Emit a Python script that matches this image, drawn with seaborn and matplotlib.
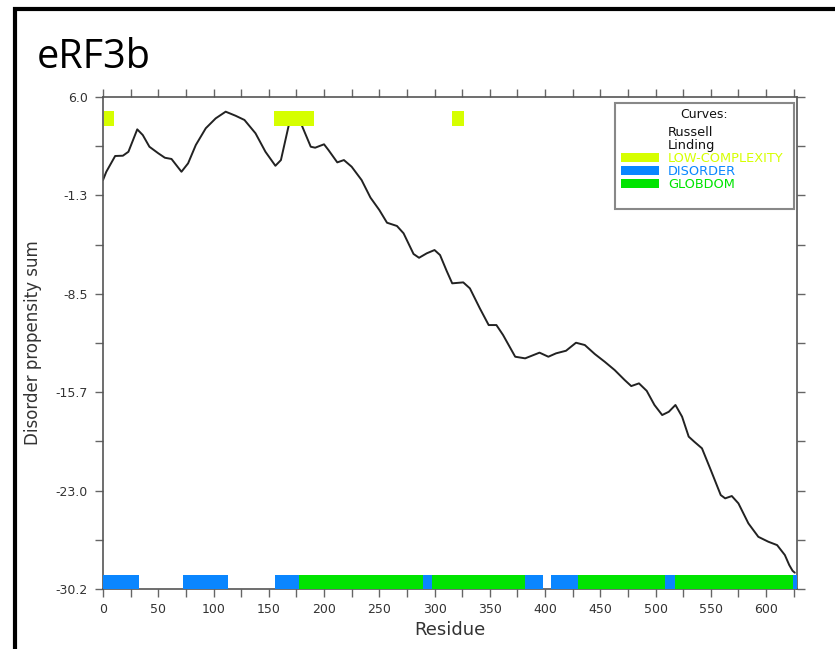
import numpy as np
import pandas as pd
import matplotlib
matplotlib.use("Agg")
import matplotlib.pyplot as plt
import seaborn as sns
from matplotlib.patches import Patch, Rectangle
from matplotlib.lines import Line2D
from matplotlib.ticker import MultipleLocator, FixedLocator

# ---------------- data ----------------
residue = [0, 3, 11, 18, 23, 31, 36, 42, 50, 56, 62, 71, 77, 84, 93, 102, 111, 120,
           128, 138, 147, 156, 161, 168, 174, 180, 188, 192, 200, 204, 212, 218, 225,
           234, 242, 250, 257, 266, 272, 281, 286, 293, 300, 305, 311, 316, 326, 332,
           341, 349, 356, 362, 373, 382, 395, 403, 410, 419, 428, 436, 445, 454, 463,
           472, 478, 485, 492, 499, 506, 512, 518, 524, 530, 535, 542, 550, 559, 563,
           569, 575, 584, 593, 602, 610, 617, 621, 624, 626]
propensity = [-0.11, 0.50, 1.66, 1.68, 1.97, 3.62, 3.20, 2.34, 1.86, 1.53, 1.44, 0.50,
              1.12, 2.47, 3.70, 4.43, 4.92, 4.62, 4.31, 3.33, 1.97, 0.94, 1.36, 3.89,
              4.60, 3.89, 2.34, 2.27, 2.52, 2.10, 1.19, 1.36, 0.87, -0.11, -1.40, -2.31,
              -3.25, -3.49, -4.03, -5.55, -5.83, -5.50, -5.26, -5.63, -6.80, -7.71,
              -7.64, -8.08, -9.55, -10.78, -10.78, -11.51, -13.11, -13.23, -12.81,
              -13.11, -12.86, -12.67, -12.08, -12.25, -12.91, -13.48, -14.09, -14.82,
              -15.27, -15.07, -15.62, -16.66, -17.40, -17.16, -16.66, -17.52, -18.99,
              -19.36, -19.85, -21.45, -23.29, -23.53, -23.36, -23.90, -25.37, -26.36,
              -26.72, -26.97, -27.70, -28.44, -28.86, -29.00]

low_complexity_start = [1, 155, 316]
low_complexity_end = [10, 191, 327]
disorder_start = [0, 72, 156, 290, 382, 405, 509, 624]
disorder_end = [33, 113, 177, 298, 398, 430, 518, 628]
globdom_start = [177, 298, 430, 518]
globdom_end = [290, 382, 509, 624]

y_tick_labels = ["6.0", "-1.3", "-8.5", "-15.7", "-23.0", "-30.2"]
legend_title = "Curves:"
legend_labels = ["Russell", "Linding", "LOW-COMPLEXITY", "DISORDER", "GLOBDOM"]

Y_MAX, Y_MIN = 6.0, -30.2
X_MAX = 628

C_LOW = "#d6ff00"
C_DIS = "#0a86ff"
C_GLOB = "#00e400"
C_AX = "#555555"
C_TXT = "#333333"

# ---------------- figure ----------------
sns.set_theme(style="white")
plt.rcParams['font.family'] = ['DejaVu Sans']

fig = plt.figure(figsize=(8.35, 6.49), dpi=100)
ax = fig.add_axes([103 / 835, 1 - 589 / 649, 694 / 835, 492 / 649])

df = pd.DataFrame({"Residue": residue, "Disorder propensity sum": propensity})
sns.lineplot(data=df, x="Residue", y="Disorder propensity sum", ax=ax,
             color="#222222", linewidth=1.4, zorder=2, sort=False)

# domain bars
top_y, top_h = 3.87, 1.10
bot_y, bot_h = Y_MIN, 1.03
ax.broken_barh([(s, e - s) for s, e in zip(low_complexity_start, low_complexity_end)],
               (top_y, top_h), facecolors=C_LOW, edgecolors='none', linewidth=0, zorder=3)
ax.broken_barh([(s, e - s) for s, e in zip(globdom_start, globdom_end)],
               (bot_y, bot_h), facecolors=C_GLOB, edgecolors='none', linewidth=0, zorder=3)
ax.broken_barh([(s, e - s) for s, e in zip(disorder_start, disorder_end)],
               (bot_y, bot_h), facecolors=C_DIS, edgecolors='none', linewidth=0, zorder=3)

ax.set_xlim(0, X_MAX)
ax.set_ylim(Y_MIN, Y_MAX)

yt = np.linspace(Y_MAX, Y_MIN, len(y_tick_labels))
ax.yaxis.set_major_locator(FixedLocator(yt))
ax.set_yticklabels(y_tick_labels)
ax.yaxis.set_minor_locator(FixedLocator((yt[:-1] + yt[1:]) / 2))
ax.xaxis.set_major_locator(MultipleLocator(50))
ax.xaxis.set_minor_locator(MultipleLocator(25))

ax.tick_params(which='both', direction='out', length=6, width=1.0, color="#666666",
               top=True, right=True, bottom=True, left=True,
               labeltop=False, labelright=False)
ax.tick_params(axis='both', labelsize=9, labelcolor=C_TXT)
ax.tick_params(axis='y', pad=5)
ax.tick_params(axis='x', pad=4)

for sp in ax.spines.values():
    sp.set_color(C_AX)
    sp.set_linewidth(1.2)
    sp.set_visible(True)

ax.set_xlabel("Residue", fontsize=13, color=C_TXT)
ax.set_ylabel("Disorder propensity sum", fontsize=12, color=C_TXT)
ax.xaxis.set_label_coords(0.5, -0.066)
ax.yaxis.set_label_coords(-0.088, 0.5)

# legend box (frame, title, entries)
ax.add_patch(Rectangle(((615 - 103) / 694, (589 - 209) / 492), 179 / 694, 106 / 492,
                       transform=ax.transAxes, facecolor="white", edgecolor="#888888",
                       linewidth=1.5, zorder=4, clip_on=False))
ax.text((704 - 103) / 694, (589 - 114) / 492, legend_title, transform=ax.transAxes,
        ha="center", va="center", fontsize=9, color="#111111", zorder=5)
handles = [Patch(facecolor='none', edgecolor='none'),
           Patch(facecolor='none', edgecolor='none'),
           Patch(facecolor=C_LOW, edgecolor='none'),
           Patch(facecolor=C_DIS, edgecolor='none'),
           Patch(facecolor=C_GLOB, edgecolor='none')]
leg = ax.legend(handles, legend_labels, loc="upper left",
                bbox_to_anchor=((621 - 103) / 694, (589 - 126) / 492),
                borderaxespad=0, borderpad=0, fontsize=9.3,
                handlelength=2.95, handleheight=0.7, handletextpad=0.7,
                labelspacing=0.0, frameon=False)
leg.set_zorder(6)
for txt, col in zip(leg.get_texts(), ["#111111", "#111111", C_LOW, C_DIS, C_GLOB]):
    txt.set_color(col)

# slide frame and title
fig.add_artist(Line2D([15 / 835, 15 / 835, 1.0], [0.0, 1 - 9 / 649, 1 - 9 / 649],
                      transform=fig.transFigure, color="black", linewidth=3,
                      solid_joinstyle='miter'))
fig.text(37 / 835, 1 - 68 / 649, "eRF3b", fontsize=28.5, family=['Open Sans', 'DejaVu Sans'],
         color="black", va="baseline", ha="left")

fig.savefig("out.png", dpi=100)
